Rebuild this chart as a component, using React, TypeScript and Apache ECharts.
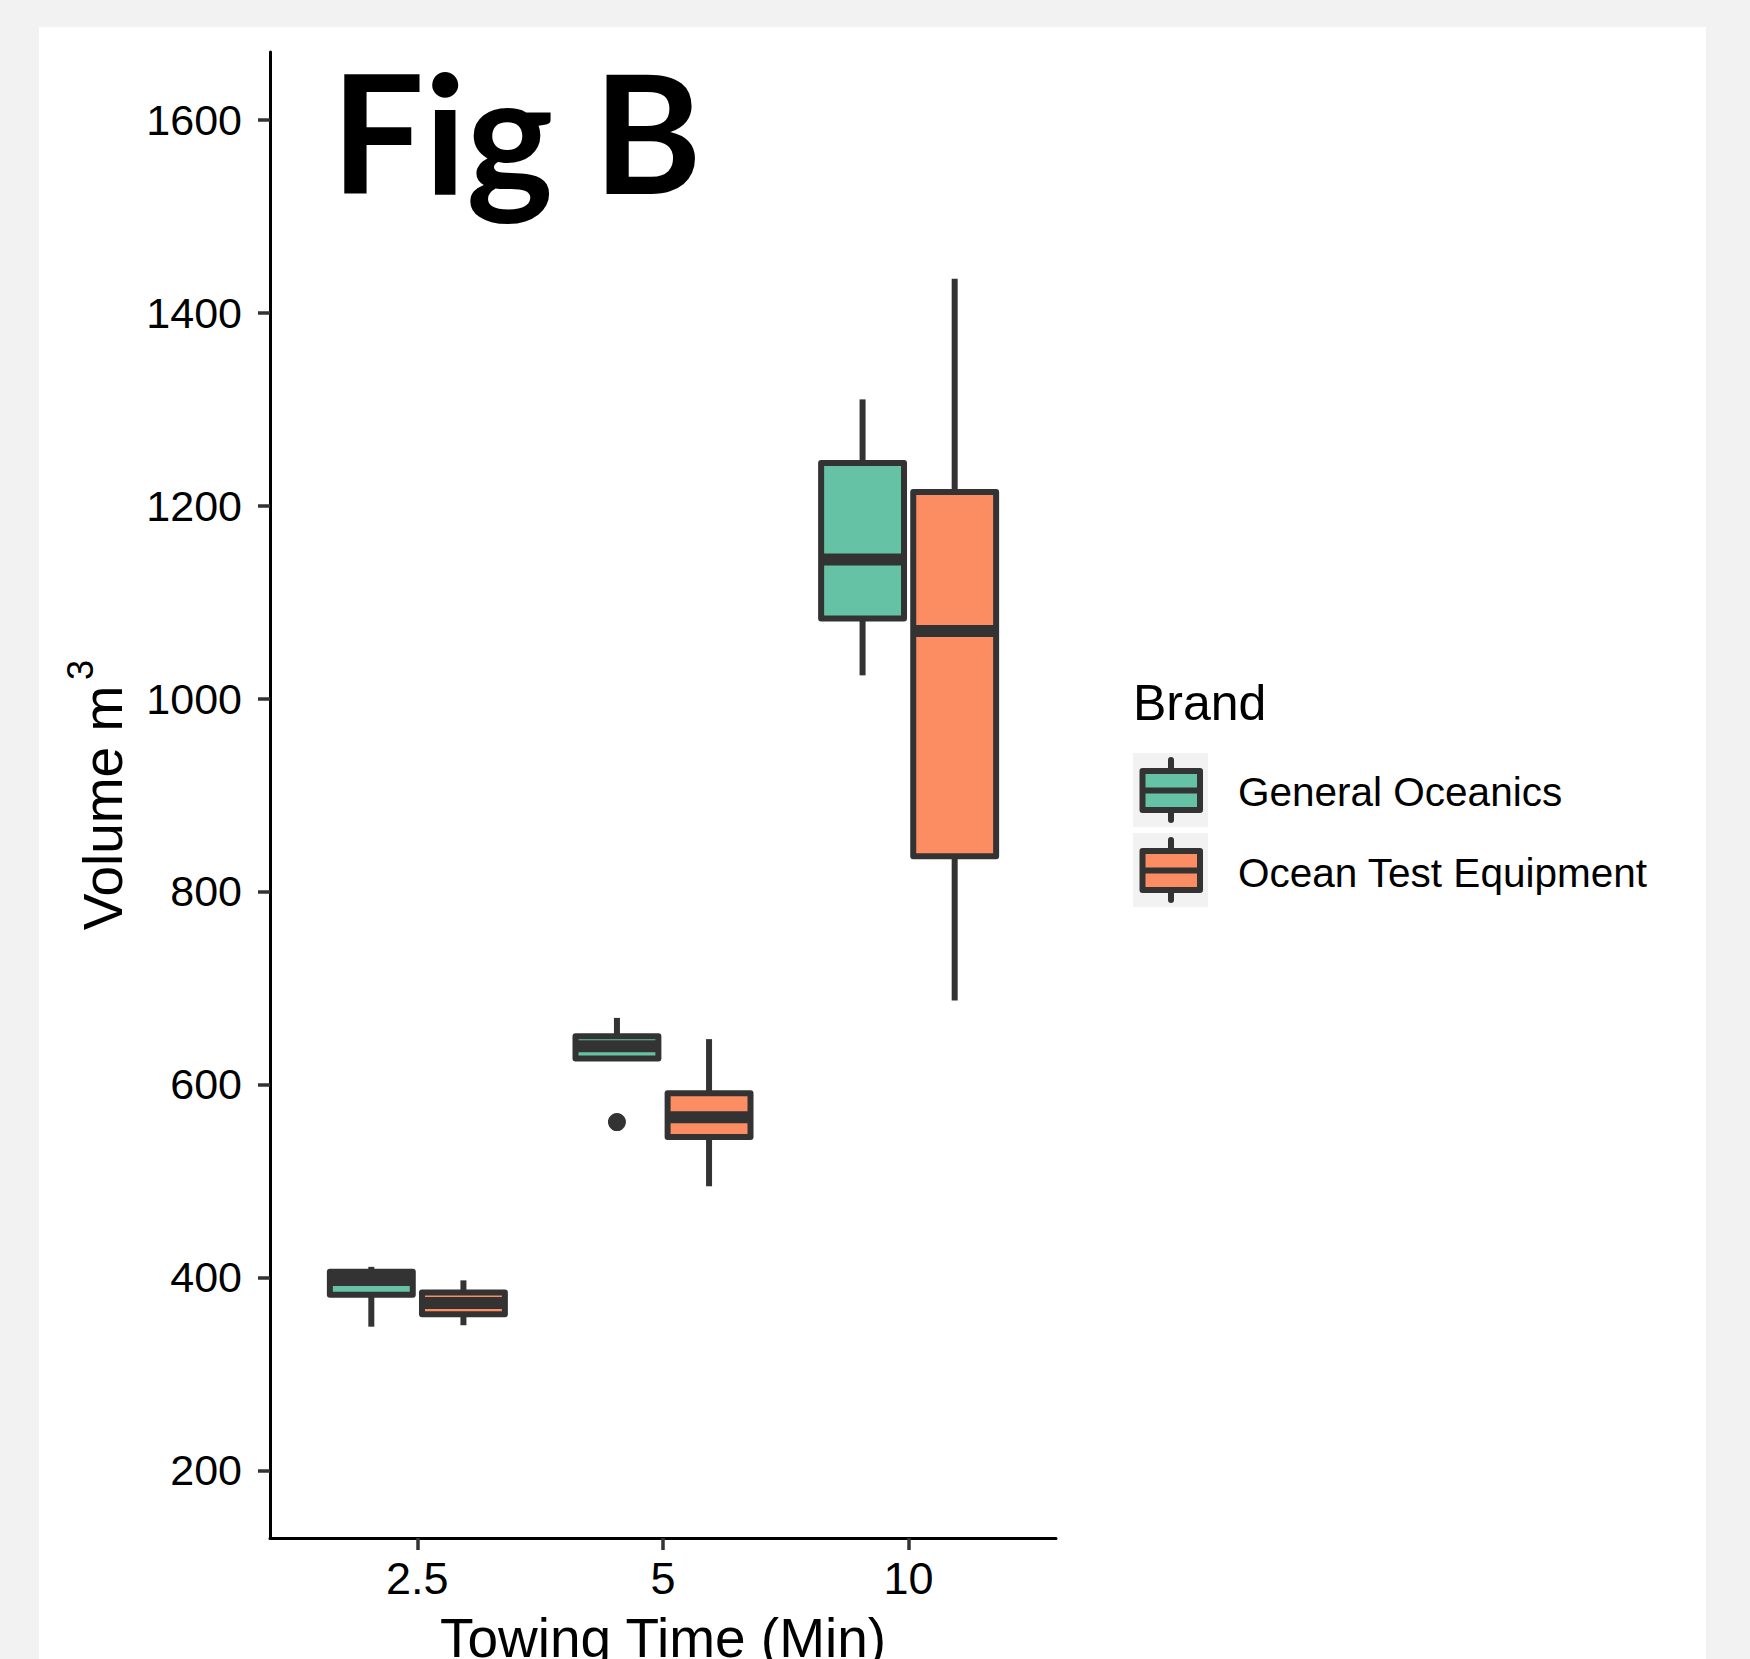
import React, { useEffect, useRef } from "react";
import * as echarts from "echarts";

// ---- data ----
const categories = ["2.5", "5", "10"];
const brands = ["General Oceanics", "Ocean Test Equipment"];
const brandColors = ["#66C2A5", "#FC8D62"];
// [min, Q1, median, Q3, max] per towing time
const generalOceanics = [
  [349, 382, 397.5, 406, 411],
  [627, 627, 639.5, 650, 669],
  [1024, 1083, 1144, 1244, 1310],
];
const oceanTestEquipment = [
  [350.5, 362, 373.5, 384.5, 397],
  [494.5, 545.5, 566, 591, 647],
  [687, 836.5, 1070, 1214, 1435],
];
// [category index, value]
const generalOceanicsOutliers = [[1, 561]];
const yTicks = [200, 400, 600, 800, 1000, 1200, 1400, 1600];
const xTicks = [1, 2, 3];

const DODGE = [-0.1875, 0.1875];
const HALF_W = 0.16875;
const STROKE = "#333333";
const FONT = "Liberation Sans, Arial, sans-serif";

function boxSeries(name: string, stats: number[][], idx: number) {
  return {
    type: "custom",
    name,
    data: stats.map((s, c) => [c + 1 + DODGE[idx], ...s]),
    encode: { x: 0, y: [1, 2, 3, 4, 5] },
    renderItem: (_params: any, api: any) => {
      const x = api.value(0);
      const pMin = api.coord([x, api.value(1)]);
      const pQ1 = api.coord([x, api.value(2)]);
      const pMed = api.coord([x, api.value(3)]);
      const pQ3 = api.coord([x, api.value(4)]);
      const pMax = api.coord([x, api.value(5)]);
      const hw = api.size([HALF_W, 0])[0];
      const cx = pMed[0];
      return {
        type: "group",
        children: [
          {
            type: "line",
            shape: { x1: cx, y1: pMin[1], x2: cx, y2: pQ1[1] },
            style: { stroke: STROKE, lineWidth: 6 },
          },
          {
            type: "line",
            shape: { x1: cx, y1: pQ3[1], x2: cx, y2: pMax[1] },
            style: { stroke: STROKE, lineWidth: 6 },
          },
          {
            type: "rect",
            shape: { x: cx - hw, y: pQ3[1], width: 2 * hw, height: pQ1[1] - pQ3[1] },
            style: { fill: brandColors[idx], stroke: STROKE, lineWidth: 6, lineJoin: "round" },
          },
          {
            type: "line",
            shape: { x1: cx - hw, y1: pMed[1], x2: cx + hw, y2: pMed[1] },
            style: { stroke: STROKE, lineWidth: 12 },
          },
        ],
      };
    },
    z: 3,
  };
}

function legendGraphics() {
  const items: any[] = [
    {
      type: "text",
      x: 1133,
      y: 703,
      style: { text: "Brand", font: `50px ${FONT}`, fill: "#000", textAlign: "left", textVerticalAlign: "middle" },
    },
  ];
  brands.forEach((b, i) => {
    const dy = i * 80;
    items.push(
      { type: "rect", shape: { x: 1133, y: 753 + dy, width: 75, height: 74 }, style: { fill: "#F2F2F2" } },
      {
        type: "line",
        shape: { x1: 1171, y1: 760 + dy, x2: 1171, y2: 820 + dy },
        style: { stroke: STROKE, lineWidth: 6, lineCap: "round" },
      },
      {
        type: "rect",
        shape: { x: 1142.5, y: 771 + dy, width: 57.5, height: 39 },
        style: { fill: brandColors[i], stroke: STROKE, lineWidth: 6, lineJoin: "round" },
      },
      {
        type: "line",
        shape: { x1: 1142.5, y1: 790.5 + dy, x2: 1200, y2: 790.5 + dy },
        style: { stroke: STROKE, lineWidth: 6 },
      },
      {
        type: "text",
        x: 1238,
        y: 792 + i * 81,
        style: { text: b, font: `40.5px ${FONT}`, fill: "#000", textAlign: "left", textVerticalAlign: "middle" },
      }
    );
  });
  return items;
}

export default function App() {
  const ref = useRef<HTMLDivElement>(null);
  useEffect(() => {
    if (!ref.current) return;
    const chart = echarts.init(ref.current, undefined, { renderer: "svg" });
    chart.setOption({
      animation: false,
      backgroundColor: "#F2F2F2",
      grid: { left: 270, top: 52, width: 786, height: 1486, containLabel: false, outerBoundsMode: "none" },
      xAxis: {
        type: "value",
        min: 0.4,
        max: 3.6,
        name: "Towing Time (Min)",
        nameLocation: "middle",
        nameGap: 72,
        nameTextStyle: { fontFamily: FONT, fontSize: 55, color: "#000" },
        axisLine: { show: true, onZero: false, lineStyle: { color: "#000", width: 3 } },
        axisTick: { show: true, customValues: xTicks, length: 12, lineStyle: { color: STROKE, width: 3.5 } },
        axisLabel: {
          customValues: xTicks,
          formatter: (v: number) => categories[Math.round(v) - 1],
          fontFamily: FONT,
          fontSize: 45,
          color: "#000",
          margin: 18,
        },
        splitLine: { show: false },
      },
      yAxis: {
        type: "value",
        min: 130,
        max: 1670,
        axisLine: { show: true, onZero: false, lineStyle: { color: "#000", width: 3 } },
        axisTick: { show: true, customValues: yTicks, length: 12, lineStyle: { color: STROKE, width: 3.5 } },
        axisLabel: {
          customValues: yTicks,
          formatter: (v: number) => String(v),
          fontFamily: FONT,
          fontSize: 43,
          color: "#000",
          margin: 28,
        },
        splitLine: { show: false },
      },
      graphic: [
        { type: "rect", z: -10, shape: { x: 39, y: 27, width: 1667, height: 1640 }, style: { fill: "#fff" } },
        {
          type: "text",
          x: 331,
          y: 130,
          style: {
            text: "Fig B",
            font: `bold 165px Lato, "Open Sans", sans-serif`,
            fill: "#000",
            textAlign: "left",
            textVerticalAlign: "middle",
          },
        },
        {
          type: "text",
          x: 103,
          y: 808,
          rotation: Math.PI / 2,
          style: { text: "Volume m", font: `55px ${FONT}`, fill: "#000", textAlign: "center", textVerticalAlign: "middle" },
        },
        {
          type: "text",
          x: 80,
          y: 670,
          rotation: Math.PI / 2,
          style: { text: "3", font: `36px ${FONT}`, fill: "#000", textAlign: "center", textVerticalAlign: "middle" },
        },
        ...legendGraphics(),
      ],
      series: [
        boxSeries(brands[0], generalOceanics, 0),
        boxSeries(brands[1], oceanTestEquipment, 1),
        {
          type: "scatter",
          name: brands[0] + " outliers",
          data: generalOceanicsOutliers.map(([c, v]) => [c + 1 + DODGE[0], v]),
          symbol: "circle",
          symbolSize: 18,
          itemStyle: { color: STROKE, opacity: 1 },
          z: 4,
        },
      ],
    });
    return () => chart.dispose();
  }, []);
  return (
    <div
      ref={ref}
      style={{ position: "fixed", left: 0, top: 0, width: 1750, height: 1659 }}
    />
  );
}
